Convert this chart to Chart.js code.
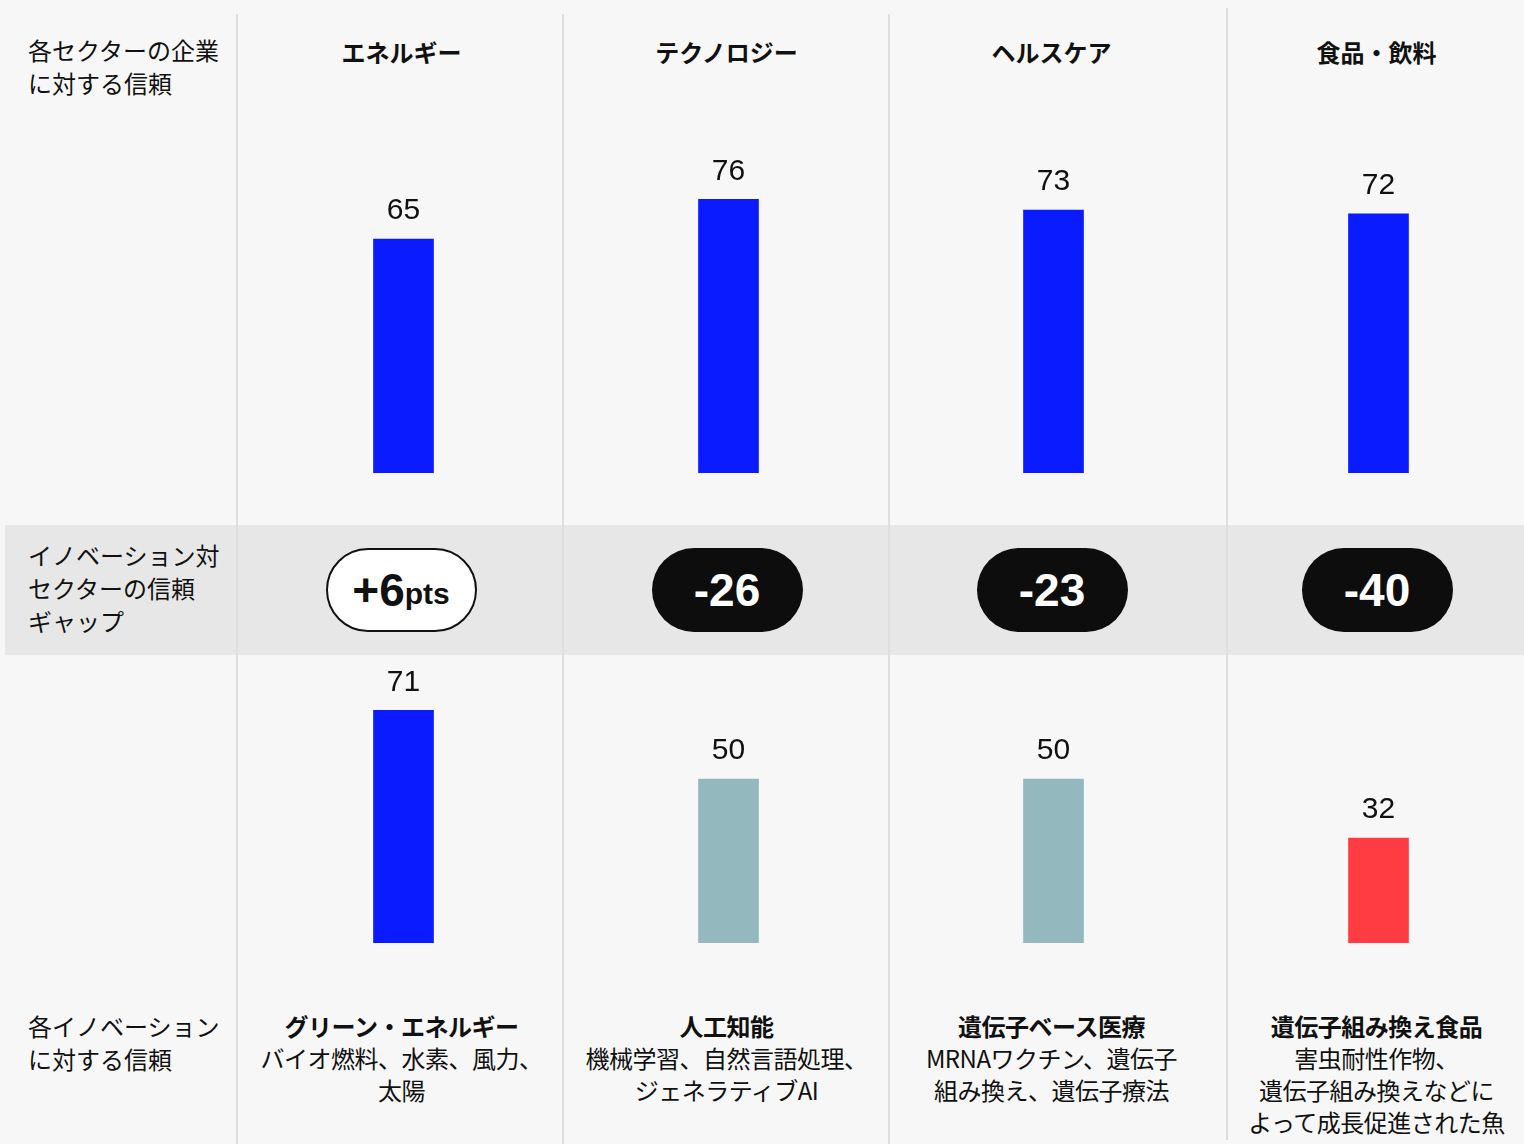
<!DOCTYPE html>
<html lang="ja">
<head>
<meta charset="utf-8">
<script src="https://cdn.jsdelivr.net/npm/chart.js@4/dist/chart.umd.min.js"></script>
<style>
  html, body { margin: 0; padding: 0; }
  body { width: 1524px; height: 1144px; background: #f7f7f7; position: relative; overflow: hidden;
         font-family: "Noto Sans CJK JP", "Noto Sans", sans-serif; color: #111; }
  .band { position: absolute; left: 5px; top: 525px; width: 1519px; height: 130px; background: #e7e7e7; }
  .sep { position: absolute; width: 2px; background: #dedede; bottom: 0; }
  .rowlabel { position: absolute; left: 28px; font-size: 24px; line-height: 33px; }
  .head { position: absolute; top: 34px; width: 320px; text-align: center; font-size: 24px; font-weight: 700; }
  .innov { position: absolute; top: 1010px; width: 330px; text-align: center; font-size: 24px; line-height: 32px; letter-spacing: -0.5px; }
  .innov b { font-weight: 700; }
  .pill { position: absolute; top: 548px; width: 151px; height: 84px; border-radius: 42px; box-sizing: border-box;
          display: flex; align-items: center; justify-content: center;
          font-family: "Liberation Sans", Arial, sans-serif; font-weight: 700; font-size: 46px; }
  .pill.neg { background: #0d0d0d; color: #fff; }
  .pill.pos { background: #fff; color: #111; border: 2px solid #111; }
  .pill small { font-size: 30px; margin-top: 8px; }
  canvas { position: absolute; left: 241px; }
</style>
</head>
<body>
<div class="band"></div>
<div class="sep" style="left:236px;top:14px"></div>
<div class="sep" style="left:562px;top:14px"></div>
<div class="sep" style="left:888px;top:14px"></div>
<div class="sep" style="left:1226px;top:8px;bottom:4px"></div>

<div class="rowlabel" style="top:33px">各セクターの企業<br>に対する信頼</div>
<div class="rowlabel" style="top:538px">イノベーション対<br>セクターの信頼<br>ギャップ</div>
<div class="rowlabel" style="top:1009px">各イノベーション<br>に対する信頼</div>

<div id="texts"></div>

<canvas id="topChart" width="1300" height="360" style="top:113px"></canvas>
<canvas id="bottomChart" width="1300" height="295" style="top:648px"></canvas>

<script>
const sectors = ['エネルギー', 'テクノロジー', 'ヘルスケア', '食品・飲料'];
const sectorTrust = [65, 76, 73, 72];
const innovations = ['グリーン・エネルギー', '人工知能', '遺伝子ベース医療', '遺伝子組み換え食品'];
const innovationExamples = [
    ['バイオ燃料、水素、風力、', '太陽'],
    ['機械学習、自然言語処理、', 'ジェネラティブAI'],
    ['MRNAワクチン、遺伝子', '組み換え、遺伝子療法'],
    ['害虫耐性作物、', '遺伝子組み換えなどに', 'よって成長促進された魚']
];
const innovationTrust = [71, 50, 50, 32];

const colCenter = i => 403.5 + 325 * i;

// header, pill, innovation labels
const texts = document.getElementById('texts');
sectors.forEach((s, i) => {
    const gap = innovationTrust[i] - sectorTrust[i];
    let html = `<div class="head" style="left:${colCenter(i) - 162}px">${s}</div>`;
    if (gap > 0) {
        html += `<div class="pill pos" style="left:${colCenter(i) - 78}px">+${gap}<small>pts</small></div>`;
    } else {
        html += `<div class="pill neg" style="left:${colCenter(i) - 77}px">${gap}</div>`;
    }
    html += `<div class="innov" style="left:${colCenter(i) - 167}px"><b>${innovations[i]}</b><br>${innovationExamples[i].join('<br>')}</div>`;
    texts.insertAdjacentHTML('beforeend', html);
});

const valueLabels = {
    id: 'valueLabels',
    afterDatasetsDraw(chart) {
        const ctx = chart.ctx;
        const meta = chart.getDatasetMeta(0);
        ctx.save();
        ctx.font = '30px "Liberation Sans", Arial, sans-serif';
        ctx.fillStyle = '#111';
        ctx.textAlign = 'center';
        ctx.textBaseline = 'middle';
        meta.data.forEach((bar, i) => {
            ctx.fillText(chart.data.datasets[0].data[i], bar.x, bar.y - 28);
        });
        ctx.restore();
    }
};

function renderBars(id, values, colors, max) {
    new Chart(document.getElementById(id).getContext('2d'), {
        type: 'bar',
        data: {
            labels: sectors,
            datasets: [{ data: values, backgroundColor: colors, borderWidth: 0, barThickness: 60 }]
        },
        options: {
            responsive: false, animation: false,
            layout: { padding: 0 },
            plugins: { legend: { display: false }, tooltip: { enabled: false } },
            scales: {
                x: { display: false },
                y: { display: false, min: 0, max: max }
            }
        },
        plugins: [valueLabels]
    });
}

renderBars('topChart', sectorTrust, '#0a1cff', 100);
renderBars('bottomChart', innovationTrust, ['#0a1cff', '#93b9bf', '#93b9bf', '#ff3c41'], 90);
</script>
</body>
</html>
